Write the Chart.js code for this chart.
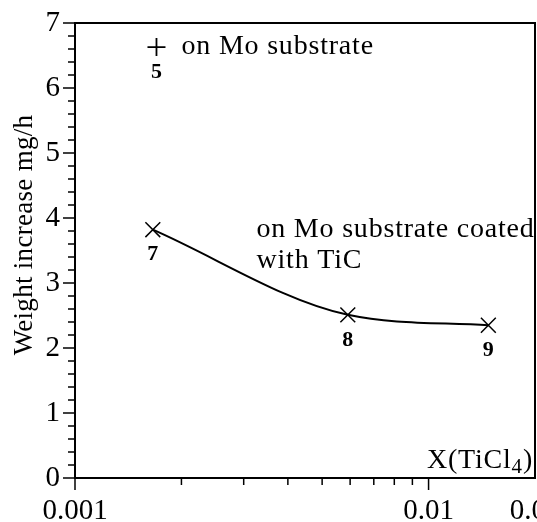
<!DOCTYPE html>
<html>
<head>
<meta charset="utf-8">
<script src="https://cdn.jsdelivr.net/npm/chart.js@4/dist/chart.umd.min.js"></script>
<style>
  html, body { margin: 0; padding: 0; background: #fff; }
  #wrap { width: 537px; height: 522px; overflow: hidden; }
</style>
</head>
<body>
<div id="wrap"><canvas id="chart" width="580" height="522"></canvas></div>
<script>
// data
const coatedX = [0.00166, 0.00591, 0.01476];
const coatedY = [3.82, 2.51, 2.35];
const coatedLabels = ["7", "8", "9"];

const plainX = [0.0017];
const plainY = [6.63];
const plainLabels = ["5"];

const xTicks = [0.001, 0.002, 0.003, 0.004, 0.005, 0.006, 0.007, 0.008, 0.009, 0.01, 0.02];
const xLabelTicks = [0.001, 0.01, 0.02];
const xMajorTicks = [0.001, 0.01];

const serif = "'Liberation Serif', 'Times New Roman', serif";
Chart.defaults.font.family = serif;
Chart.defaults.color = "#000";

function points(xs, ys) {
  return xs.map((x, i) => ({ x: x, y: ys[i] }));
}

const figureText = {
  id: "figureText",
  afterDraw(chart) {
    const ctx = chart.ctx;
    const area = chart.chartArea;
    const xs = chart.scales.x;
    const ys = chart.scales.y;
    ctx.save();
    ctx.strokeStyle = "#000";
    ctx.fillStyle = "#000";

    // frame
    ctx.lineWidth = 2;
    ctx.strokeRect(area.left, area.top, area.right - area.left, area.bottom - area.top);

    // ticks, major ones longer
    ctx.lineWidth = 1.5;
    ys.ticks.forEach((t) => {
      const major = Math.abs(t.value - Math.round(t.value)) < 1e-6;
      const len = major ? 12 : 7;
      const py = ys.getPixelForValue(t.value);
      ctx.beginPath();
      ctx.moveTo(area.left - len, py);
      ctx.lineTo(area.left, py);
      ctx.stroke();
    });
    xTicks.forEach((v) => {
      if (v >= 0.02) return;
      const len = xMajorTicks.includes(v) ? 12 : 7;
      const px = xs.getPixelForValue(v);
      ctx.beginPath();
      ctx.moveTo(px, area.bottom);
      ctx.lineTo(px, area.bottom + len);
      ctx.stroke();
    });

    // point numbers
    ctx.font = "bold 22px " + serif;
    ctx.textAlign = "center";
    ctx.textBaseline = "middle";
    coatedX.forEach((x, i) => {
      ctx.fillText(coatedLabels[i], xs.getPixelForValue(x), ys.getPixelForValue(coatedY[i]) + 25);
    });
    plainX.forEach((x, i) => {
      ctx.fillText(plainLabels[i], xs.getPixelForValue(x), ys.getPixelForValue(plainY[i]) + 25);
    });

    // annotations
    ctx.font = "28px " + serif;
    ctx.letterSpacing = "0.8px";
    ctx.textAlign = "left";
    ctx.textBaseline = "alphabetic";
    ctx.fillText("on Mo substrate", xs.getPixelForValue(plainX[0]) + 25, ys.getPixelForValue(plainY[0]) + 7);
    ctx.fillText("on Mo substrate coated", xs.getPixelForValue(0.00326), ys.getPixelForValue(3.71));
    ctx.fillText("with TiC", xs.getPixelForValue(0.00326), ys.getPixelForValue(3.71) + 31);

    // axis name X(TiCl4)
    const base = area.bottom - 10;
    const w1 = ctx.measureText("X(TiCl").width;
    ctx.font = "21px " + serif;
    const w2 = ctx.measureText("4").width;
    ctx.font = "28px " + serif;
    const w3 = ctx.measureText(")").width;
    const x0 = area.right - 2 - (w1 + w2 + w3);
    ctx.fillText("X(TiCl", x0, base);
    ctx.font = "21px " + serif;
    ctx.fillText("4", x0 + w1, base + 5);
    ctx.font = "28px " + serif;
    ctx.fillText(")", x0 + w1 + w2, base);

    // y axis title
    ctx.save();
    ctx.translate(25, 235);
    ctx.rotate(-Math.PI / 2);
    ctx.textAlign = "center";
    ctx.textBaseline = "middle";
    ctx.font = "27px " + serif;
    ctx.letterSpacing = "0.3px";
    ctx.fillText("Weight increase mg/h", 0, 0);
    ctx.restore();

    ctx.restore();
  },
};

new Chart(document.getElementById("chart"), {
  type: "scatter",
  data: {
    datasets: [
      {
        label: "on Mo substrate coated with TiC",
        data: points(coatedX, coatedY),
        showLine: true,
        cubicInterpolationMode: "monotone",
        borderColor: "#000",
        borderWidth: 2,
        pointStyle: "crossRot",
        pointRadius: 10.5,
        pointBorderWidth: 1.5,
        pointBorderColor: "#000",
      },
      {
        label: "on Mo substrate",
        data: points(plainX, plainY),
        showLine: false,
        pointStyle: "cross",
        pointRadius: 9,
        pointBorderWidth: 1.8,
        pointBorderColor: "#000",
      },
    ],
  },
  options: {
    responsive: false,
    animation: false,
    layout: { padding: { left: 0, right: 45, top: 23, bottom: 0 } },
    plugins: {
      legend: { display: false },
      tooltip: { enabled: false },
    },
    scales: {
      x: {
        type: "logarithmic",
        min: 0.001,
        max: 0.02,
        afterBuildTicks: (scale) => {
          scale.ticks = xTicks.map((v) => ({ value: v }));
        },
        afterFit: (scale) => {
          scale.height = 44;
        },
        ticks: {
          autoSkip: false,
          maxRotation: 0,
          padding: 4,
          font: { size: 29 },
          callback: (v) => (xLabelTicks.includes(v) ? String(v) : ""),
        },
        grid: { display: true, drawOnChartArea: false, tickLength: 12, color: "rgba(0,0,0,0)" },
        border: { display: false },
      },
      y: {
        min: 0,
        max: 7,
        afterFit: (scale) => {
          scale.width = 75;
        },
        ticks: {
          stepSize: 0.2,
          autoSkip: false,
          padding: 3,
          font: { size: 29 },
          callback: (v) => (Math.abs(v - Math.round(v)) < 1e-6 ? String(Math.round(v)) : ""),
        },
        grid: { display: true, drawOnChartArea: false, tickLength: 12, color: "rgba(0,0,0,0)" },
        border: { display: false },
      },
    },
  },
  plugins: [figureText],
});
</script>
</body>
</html>
